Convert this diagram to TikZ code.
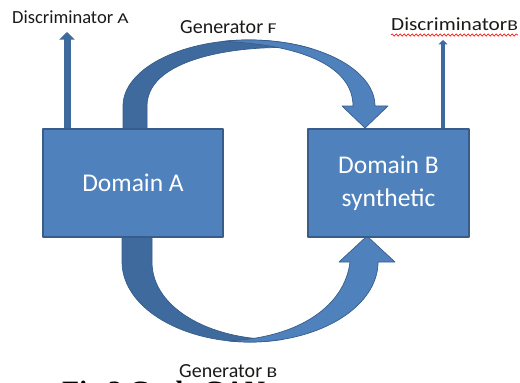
\documentclass[tikz,border=0pt]{standalone}
\usepackage{graphicx}
\usepackage{fontspec}
\setmainfont{Carlito}
\newfontfamily\captionserif{Liberation Serif}
\usetikzlibrary{arrows.meta,decorations.pathmorphing}

\definecolor{boxblue}{HTML}{4F81BD}
\definecolor{boxline}{HTML}{385D8A}
\definecolor{bandblue}{HTML}{3F6A9E}
\definecolor{labelink}{HTML}{1C1A18}

% smaller, wider trailing letter of the flow labels
\providecommand{\tagletter}[1]{\scalebox{1.3}[1]{\fontsize{15}{16}\selectfont #1}}

\begin{document}
\begin{tikzpicture}[x=1pt, y=-1pt, line join=round,
  domainbox/.style={draw=boxline, line width=1.6pt, fill=boxblue, text=white,
    font=\fontsize{25.5}{33}\selectfont, align=center, inner sep=0pt},
  flowlabel/.style={anchor=base west, inner sep=0pt, text=labelink},
  backband/.style={fill=bandblue, draw=boxline, line width=0.7pt},
  frontband/.style={fill=boxblue, draw=boxline, line width=0.7pt},
  discarrow/.style={draw=bandblue, -{Triangle[width=#1*2.2pt, length=#1*1.1pt]}, line width=#1 pt}]
\useasboundingbox (0,0) rectangle (520,383);
\clip (0,0) rectangle (520,383);

% Upper curved arrow (A -> B), back band first
\path[backband] (123,131) -- (123,106) arc[start angle=180, end angle=300, x radius=126, y radius=66]
  .. controls (250,43) and (147,55) .. (147,106) -- (147,131) -- cycle;
\path[frontband] (222.8,41.4) arc[start angle=258, end angle=360, x radius=126, y radius=66]
  -- (388,106) -- (365,128) -- (342,106) -- (353,106)
  .. controls (353,70) and (310,45) .. cycle;

% Lower curved arrow (A -> B), back band first
\path[backband] (122,235) -- (122,262) arc[start angle=180, end angle=75, x radius=128, y radius=80]
  .. controls (215,342) and (152,310) .. (152,262) -- (152,235) -- cycle;
\path[frontband] (227.8,340.8) arc[start angle=100, end angle=0, x radius=128, y radius=80]
  -- (395,262) -- (367,236) -- (339,262) -- (350,262)
  .. controls (345,305) and (300,338) .. cycle;

% Domain boxes
\node[domainbox, minimum width=180, minimum height=108] (domA) at (133,183) {Domain A};
\node[domainbox, minimum width=161, minimum height=108] (domB) at (388.5,183) {Domain B\\synthetic};

% Labels
\node[flowlabel, font=\fontsize{18.5}{22}\selectfont] (discA) at (12,23) {Discriminator \tagletter{A}};
\node[flowlabel, font=\fontsize{20}{22}\selectfont] (genF) at (180,33) {Generator \tagletter{F}};
\node[flowlabel, font=\fontsize{18.5}{22}\selectfont] (discB) at (391,30) {\scalebox{1.15}[1]{Discriminator}\tagletter{B}};
\node[flowlabel, font=\fontsize{20}{22}\selectfont] (genB) at (179,377) {Generator \tagletter{B}};
\node[anchor=base west, inner sep=0pt, font=\captionserif\bfseries\fontsize{28}{30}\selectfont] (figcap) at (62,400) {Fig.2 Cycle GAN};

% spell-check squiggle under the B label
\draw[red, line width=0.6pt, decorate, decoration={snake, amplitude=1.2pt, segment length=4pt}]
  ([yshift=-5pt]discB.base west) -- ([yshift=-5pt]discB.base east);

% Discriminator outputs
\coordinate (dA) at (67,32);
\coordinate (dB) at (443,40);
\draw[discarrow=7] (domA.north -| dA) -- (dA);
\draw[discarrow=4] (domB.north -| dB) -- (dB);
\end{tikzpicture}
\end{document}
